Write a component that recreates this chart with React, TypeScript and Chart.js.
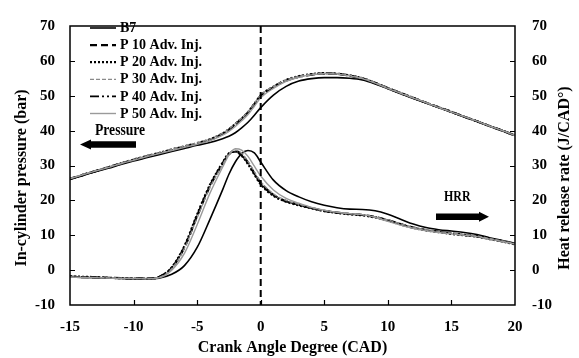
import React, { useEffect, useRef } from 'react';
import { Chart, registerables } from 'chart.js';
Chart.register(...registerables);

// Crank angle (CAD)
const cad = [-15, -14, -13, -12, -11, -10, -9, -8, -7, -6, -5, -4, -3, -2.5, -2, -1.5, -1, -0.5, 0, 1, 2, 3, 4, 5, 6, 7, 8, 9, 10, 11, 12, 13, 14, 15, 16, 17, 18, 19, 20];

const seriesLabels = ['B7', 'P 10 Adv. Inj.', 'P 20 Adv. Inj.', 'P 30 Adv. Inj.', 'P 40 Adv. Inj.', 'P 50 Adv. Inj.'];

// In-cylinder pressure (bar)
const pB7 = [26.0, 27.1, 28.2, 29.2, 30.3, 31.3, 32.2, 33.1, 34.0, 34.9, 35.8, 36.6, 37.7, 38.4, 39.4, 40.8, 42.4, 44.4, 46.6, 50.2, 52.7, 54.2, 54.9, 55.2, 55.2, 55.0, 54.5, 53.4, 52.0, 50.6, 49.2, 47.9, 46.6, 45.3, 44.0, 42.7, 41.3, 40.0, 38.6];
const pP10 = [26.2, 27.3, 28.4, 29.5, 30.6, 31.6, 32.6, 33.5, 34.5, 35.4, 36.3, 37.4, 39.1, 40.3, 41.8, 43.4, 45.2, 47.6, 50.0, 52.5, 54.4, 55.5, 56.1, 56.4, 56.3, 55.8, 55.0, 53.7, 52.2, 50.8, 49.4, 48.0, 46.7, 45.4, 44.0, 42.7, 41.3, 40.0, 38.6];
const pP20 = [26.2, 27.3, 28.4, 29.5, 30.6, 31.7, 32.7, 33.6, 34.6, 35.5, 36.4, 37.5, 39.2, 40.4, 41.9, 43.5, 45.3, 47.7, 50.1, 52.6, 54.5, 55.6, 56.2, 56.5, 56.3, 55.8, 55.0, 53.7, 52.2, 50.8, 49.4, 48.0, 46.7, 45.4, 44.0, 42.7, 41.3, 40.0, 38.6];
const pP30 = [26.3, 27.4, 28.5, 29.6, 30.7, 31.7, 32.7, 33.6, 34.6, 35.6, 36.5, 37.6, 39.3, 40.5, 42.0, 43.6, 45.4, 47.8, 50.2, 52.7, 54.5, 55.6, 56.2, 56.5, 56.4, 55.9, 55.1, 53.8, 52.3, 50.9, 49.5, 48.1, 46.8, 45.4, 44.1, 42.8, 41.4, 40.1, 38.7];
const pP40 = [26.1, 27.2, 28.3, 29.4, 30.5, 31.6, 32.5, 33.4, 34.4, 35.3, 36.2, 37.3, 39.0, 40.2, 41.7, 43.3, 45.1, 47.5, 49.9, 52.4, 54.3, 55.4, 56.0, 56.3, 56.2, 55.7, 54.9, 53.6, 52.1, 50.7, 49.3, 48.0, 46.6, 45.3, 44.0, 42.7, 41.3, 40.0, 38.6];
const pP50 = [26.2, 27.3, 28.4, 29.4, 30.5, 31.5, 32.5, 33.4, 34.3, 35.2, 36.1, 37.1, 38.7, 39.8, 41.2, 42.8, 44.6, 47.0, 49.4, 52.1, 54.1, 55.3, 56.0, 56.3, 56.2, 55.7, 54.9, 53.6, 52.1, 50.7, 49.3, 48.0, 46.6, 45.3, 44.0, 42.7, 41.3, 40.0, 38.6];

// Heat release rate (J/CAD°)
const hB7 = [-2.0, -2.1, -2.2, -2.3, -2.4, -2.5, -2.5, -2.3, -1.2, 1.3, 6.5, 14.5, 23.0, 27.5, 31.0, 33.4, 34.3, 33.6, 31.0, 25.8, 22.8, 21.0, 19.6, 18.6, 17.9, 17.5, 17.4, 17.0, 16.0, 14.6, 13.2, 12.2, 11.6, 11.2, 10.8, 10.2, 9.3, 8.5, 7.7];
const hP10 = [-1.9, -2.0, -2.1, -2.2, -2.3, -2.4, -2.4, -2.0, 0.6, 6.5, 15.5, 24.0, 30.5, 33.3, 34.2, 33.2, 30.8, 27.8, 25.0, 21.6, 19.8, 18.8, 17.8, 17.0, 16.5, 16.1, 15.8, 15.2, 14.3, 13.2, 12.2, 11.5, 11.0, 10.5, 10.1, 9.7, 9.0, 8.3, 7.5];
const hP20 = [-1.8, -1.9, -2.0, -2.2, -2.3, -2.4, -2.5, -2.0, 0.8, 6.9, 16.0, 24.4, 30.8, 33.5, 34.0, 32.8, 30.4, 27.4, 24.6, 21.3, 19.6, 18.6, 17.7, 16.9, 16.4, 16.0, 15.7, 15.1, 14.2, 13.1, 12.1, 11.4, 10.9, 10.4, 10.0, 9.6, 8.9, 8.2, 7.4];
const hP30 = [-2.0, -2.1, -2.1, -2.2, -2.3, -2.4, -2.4, -2.1, 0.4, 6.2, 15.0, 23.6, 30.2, 33.4, 34.4, 33.5, 31.2, 28.2, 25.4, 21.9, 20.0, 18.9, 17.9, 17.1, 16.6, 16.2, 15.9, 15.3, 14.4, 13.3, 12.3, 11.6, 11.1, 10.6, 10.2, 9.8, 9.1, 8.4, 7.6];
const hP40 = [-1.9, -2.0, -2.1, -2.2, -2.3, -2.3, -2.4, -1.9, 0.7, 6.7, 15.7, 24.2, 30.6, 33.2, 33.9, 32.9, 30.6, 27.6, 24.8, 21.5, 19.7, 18.7, 17.8, 17.0, 16.5, 16.1, 15.8, 15.2, 14.3, 13.2, 12.2, 11.5, 11.0, 10.5, 10.1, 9.7, 9.0, 8.3, 7.5];
const hP50 = [-2.0, -2.1, -2.2, -2.3, -2.4, -2.4, -2.5, -2.2, 0.0, 4.8, 13.0, 22.0, 29.5, 33.0, 34.8, 34.4, 32.6, 29.8, 27.0, 23.0, 20.6, 19.2, 18.0, 17.2, 16.6, 16.2, 15.9, 15.1, 14.0, 12.9, 12.0, 11.3, 10.8, 10.4, 10.0, 9.6, 8.9, 8.2, 7.5];

const pressureSets = [pB7, pP10, pP20, pP30, pP40, pP50];
const hrrSets = [hB7, hP10, hP20, hP30, hP40, hP50];

const xTicks = [-15, -10, -5, 0, 5, 10, 15, 20];
const yTicks = [-10, 0, 10, 20, 30, 40, 50, 60, 70];

const styles = [
  { color: '#000000', width: 1.6, dash: [] as number[] },
  { color: '#000000', width: 2.2, dash: [7, 4] },
  { color: '#000000', width: 2.2, dash: [2, 2] },
  { color: '#8a8a8a', width: 1.3, dash: [4, 2] },
  { color: '#000000', width: 1.8, dash: [9, 3, 2, 3, 2, 3] },
  { color: '#9a9a9a', width: 1.4, dash: [] as number[] },
];

const FONT = "'Liberation Serif', 'Times New Roman', serif";

const overlay = {
  id: 'overlay',
  afterDatasetsDraw(chart: any) {
    const { ctx, chartArea: a, scales } = chart;
    const xs = scales.x;
    const ys = scales.y;
    ctx.save();
    // vertical dashed line at TDC
    const x0 = xs.getPixelForValue(0);
    ctx.strokeStyle = '#000';
    ctx.lineWidth = 2;
    ctx.setLineDash([7, 4]);
    ctx.beginPath();
    ctx.moveTo(x0, a.top);
    ctx.lineTo(x0, a.bottom);
    ctx.stroke();
    ctx.setLineDash([]);
    // frame
    ctx.lineWidth = 1.5;
    ctx.strokeRect(a.left, a.top, a.right - a.left, a.bottom - a.top);
    // inward ticks
    ctx.lineWidth = 1.2;
    ctx.beginPath();
    yTicks.slice(1, -1).forEach((v) => {
      const py = Math.round(ys.getPixelForValue(v)) + 0.5;
      ctx.moveTo(a.left, py);
      ctx.lineTo(a.left + 5, py);
      ctx.moveTo(a.right, py);
      ctx.lineTo(a.right - 5, py);
    });
    xTicks.slice(1, -1).forEach((v) => {
      const px = Math.round(xs.getPixelForValue(v)) + 0.5;
      ctx.moveTo(px, a.bottom);
      ctx.lineTo(px, a.bottom - 5);
    });
    ctx.stroke();

    // legend
    ctx.font = `bold 14px ${FONT}`;
    ctx.textBaseline = 'middle';
    ctx.textAlign = 'left';
    seriesLabels.forEach((lab, i) => {
      const yy = 28 + i * 17.1;
      const st = styles[i];
      ctx.strokeStyle = st.color;
      ctx.lineWidth = st.width;
      ctx.setLineDash(st.dash);
      ctx.beginPath();
      ctx.moveTo(90, yy);
      ctx.lineTo(116, yy);
      ctx.stroke();
      ctx.setLineDash([]);
      ctx.fillStyle = '#000';
      ctx.fillText(lab, 120, yy + 0.5);
    });

    // "Pressure" label + left arrow
    ctx.fillStyle = '#000';
    ctx.save();
    ctx.translate(95, 131);
    ctx.scale(0.85, 1);
    ctx.font = `bold 16px ${FONT}`;
    ctx.textBaseline = 'middle';
    ctx.fillText('Pressure', 0, 0);
    ctx.restore();
    ctx.beginPath();
    ctx.moveTo(80, 144.5);
    ctx.lineTo(91, 139.5);
    ctx.lineTo(91, 141.2);
    ctx.lineTo(136, 141.2);
    ctx.lineTo(136, 147.8);
    ctx.lineTo(91, 147.8);
    ctx.lineTo(91, 149.5);
    ctx.closePath();
    ctx.fill();

    // "HRR" label + right arrow
    ctx.save();
    ctx.translate(444, 197.5);
    ctx.scale(0.8, 1);
    ctx.font = `bold 15px ${FONT}`;
    ctx.textBaseline = 'middle';
    ctx.fillText('HRR', 0, 0);
    ctx.restore();
    ctx.beginPath();
    ctx.moveTo(489, 216.7);
    ctx.lineTo(479, 211.7);
    ctx.lineTo(479, 213.4);
    ctx.lineTo(436, 213.4);
    ctx.lineTo(436, 220);
    ctx.lineTo(479, 220);
    ctx.lineTo(479, 221.7);
    ctx.closePath();
    ctx.fill();

    // axis titles
    ctx.font = `bold 16px ${FONT}`;
    ctx.textAlign = 'center';
    ctx.textBaseline = 'middle';
    ctx.fillText('Crank Angle Degree (CAD)', (a.left + a.right) / 2, 348);
    ctx.save();
    ctx.translate(22, 178);
    ctx.rotate(-Math.PI / 2);
    ctx.fillText('In-cylinder pressure (bar)', 0, 0);
    ctx.restore();
    ctx.save();
    ctx.translate(565, 178);
    ctx.rotate(-Math.PI / 2);
    ctx.fillText('Heat release rate (J/CAD°)', 0, 0);
    ctx.restore();

    ctx.restore();
  },
};

export default function App() {
  const ref = useRef<HTMLCanvasElement>(null);
  useEffect(() => {
    if (!ref.current) return;
    const datasets: any[] = [];
    const order = [5, 3, 0, 4, 2, 1];
    order.forEach((i) => {
      const st = styles[i];
      const common = {
        label: seriesLabels[i],
        borderColor: st.color,
        borderWidth: st.width,
        borderDash: st.dash,
        pointRadius: 0,
        fill: false,
        cubicInterpolationMode: 'monotone',
      };
      datasets.push({ ...common, yAxisID: 'y', data: cad.map((x, k) => ({ x, y: pressureSets[i][k] })) });
      datasets.push({ ...common, yAxisID: 'y2', data: cad.map((x, k) => ({ x, y: hrrSets[i][k] })) });
    });
    const tickFont = { family: FONT, size: 15, weight: 'bold' as const };
    const chart = new Chart(ref.current, {
      type: 'line',
      data: { datasets },
      options: {
        responsive: false,
        animation: false,
        layout: { padding: { top: 17, left: 0, right: 0, bottom: 0 } },
        plugins: { legend: { display: false }, tooltip: { enabled: false }, title: { display: false } },
        scales: {
          x: {
            type: 'linear',
            min: -15,
            max: 20,
            grid: { display: false, drawTicks: false },
            border: { display: false },
            ticks: { stepSize: 5, color: '#000', font: tickFont, padding: 13, maxRotation: 0 },
            afterFit: (s: any) => { s.height = 53; },
          },
          y: {
            position: 'left',
            min: -10,
            max: 70,
            grid: { display: false, drawTicks: false },
            border: { display: false },
            ticks: { stepSize: 10, color: '#000', font: tickFont, padding: 15 },
            afterFit: (s: any) => { s.width = 70; },
          },
          y2: {
            position: 'right',
            min: -10,
            max: 70,
            grid: { display: false, drawTicks: false },
            border: { display: false },
            ticks: { stepSize: 10, color: '#000', font: tickFont, padding: 17 },
            afterFit: (s: any) => { s.width = 64; },
          },
        },
      },
      plugins: [overlay],
    } as any);
    return () => chart.destroy();
  }, []);
  return (
    <div style={{ position: 'fixed', left: 0, top: 0, width: 579, height: 358, background: '#fff' }}>
      <canvas ref={ref} width={579} height={358} style={{ display: 'block' }} />
    </div>
  );
}
